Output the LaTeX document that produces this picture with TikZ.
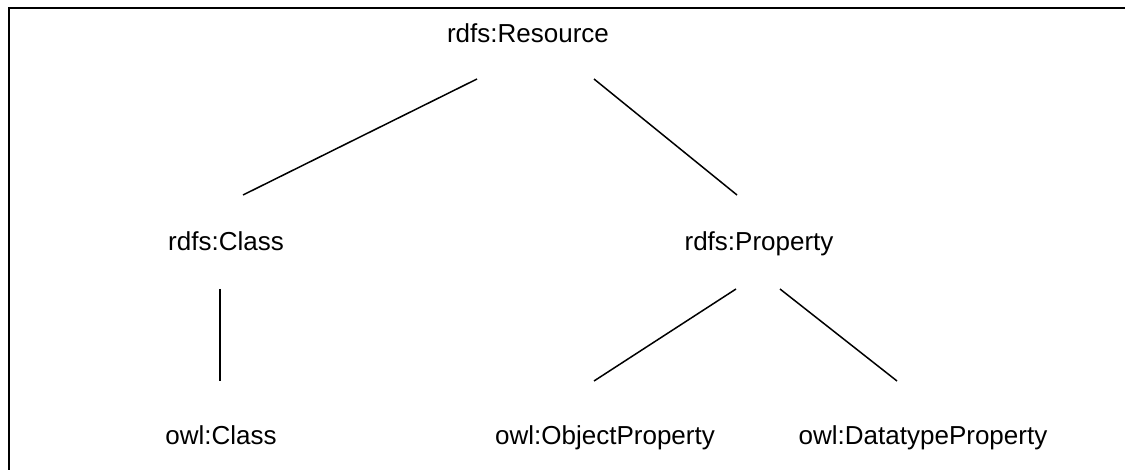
\documentclass[tikz,border=0pt]{standalone}
\usepackage{fontspec}
\setmainfont{Liberation Sans}
\begin{document}
\begin{tikzpicture}[x=1pt,y=-1pt,
  term/.style={inner sep=0pt,anchor=base,font=\fontsize{26}{30}\selectfont},
  link/.style={line width=1.5pt},
  frame/.style={line width=2pt}]
\useasboundingbox (0,0) rectangle (1125,470);
% open frame: top and left edges only
\draw[frame] (8.5,470) -- (8.5,8) -- (1125,8);

% class hierarchy terms
\node[term] (res)  at (528,43)  {rdfs:Resource};
\node[term] (cls)  at (226,251) {rdfs:Class};
\node[term] (prop) at (759,251) {rdfs:Property};
\node[term] (ocls) at (221,444) {owl:Class};
\node[term] (oobj) at (605,444) {owl:ObjectProperty};
\node[term] (odt)  at (923,444) {owl:DatatypeProperty};

% end points of the links
\coordinate (res-l)  at (477,79);
\coordinate (res-r)  at (594,79);
\coordinate (cls-t)  at (243,195);
\coordinate (prop-t) at (737,195);
\coordinate (cls-b)  at (220,289);
\coordinate (ocls-t) at (220,381);
\coordinate (prop-l) at (736,289);
\coordinate (prop-r) at (780,289);
\coordinate (oobj-t) at (594,381);
\coordinate (odt-t)  at (897,381);

\draw[link] (res-l) -- (cls-t);
\draw[link] (res-r) -- (prop-t);
\draw[link] (cls-b) -- (ocls-t);
\draw[link] (prop-l) -- (oobj-t);
\draw[link] (prop-r) -- (odt-t);
\end{tikzpicture}
\end{document}
